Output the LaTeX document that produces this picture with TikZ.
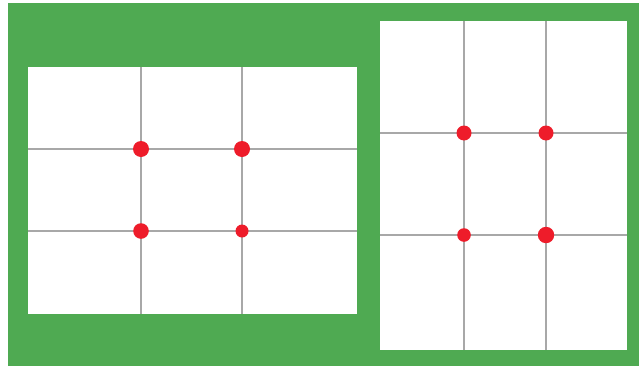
\documentclass[tikz,border=0pt]{standalone}
\definecolor{bggreen}{HTML}{4FAA52}
\definecolor{gridgray}{HTML}{A8A8A8}
\definecolor{dotred}{HTML}{EE1C2A}
\begin{document}
\begin{tikzpicture}[x=1pt,y=-1pt,
  gridline/.style={draw=gridgray,line width=2pt},
  panel/.style={fill=white},
  dot/.style={fill=dotred}]
\useasboundingbox (0,0) rectangle (639,367);
\fill[white] (0,0) rectangle (639,367);
\fill[bggreen] (8,3) rectangle (639,366);
% left panel
\fill[panel] (28,67) rectangle (357,314);
\draw[gridline] (141,67) -- (141,314);
\draw[gridline] (242,67) -- (242,314);
\draw[gridline] (28,149) -- (357,149);
\draw[gridline] (28,231) -- (357,231);
\fill[dot] (141,149) circle (8);
\fill[dot] (242,149) circle (8);
\fill[dot] (141,231) circle (7.8);
\fill[dot] (242,231) circle (6.5);
% right panel
\fill[panel] (380,21) rectangle (627,350);
\draw[gridline] (464,21) -- (464,350);
\draw[gridline] (546,21) -- (546,350);
\draw[gridline] (380,133) -- (627,133);
\draw[gridline] (380,235) -- (627,235);
\fill[dot] (464,133) circle (7.5);
\fill[dot] (546,133) circle (7.5);
\fill[dot] (464,235) circle (6.8);
\fill[dot] (546,235) circle (8.2);
\end{tikzpicture}
\end{document}
